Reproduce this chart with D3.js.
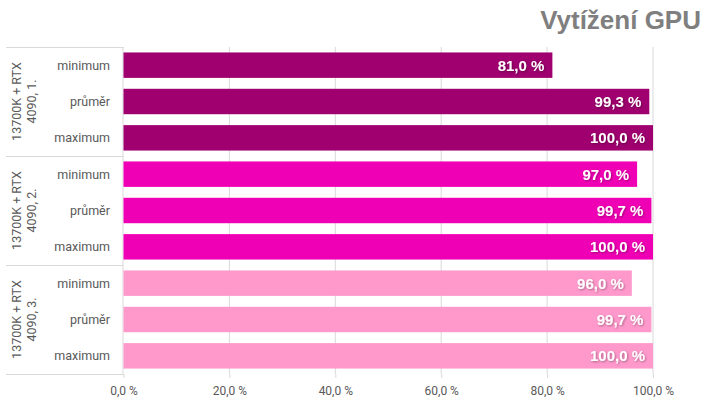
<!DOCTYPE html>
<html lang="cs">
<head>
<meta charset="UTF-8">
<title>Vytížení GPU</title>
<style>
body { margin: 0; background: #fff; }
svg text { font-family: "Liberation Sans", Arial, sans-serif; }
</style>
</head>
<body>
<svg id="main" width="720" height="405"></svg>
<script src="https://cdn.jsdelivr.net/npm/d3@7/dist/d3.min.js"></script>
<script>
var groups = ["13700K + RTX|4090, 1.", "13700K + RTX|4090, 2.", "13700K + RTX|4090, 3."];
var stats = ["minimum", "průměr", "maximum"];
var run1 = [81.0, 99.3, 100.0];
var run2 = [97.0, 99.7, 100.0];
var run3 = [96.0, 99.7, 100.0];
var colors = ["#a0006f", "#f000b4", "#ff99cc"];
var ticks = [0, 20, 40, 60, 80, 100];

var runs = [run1, run2, run3];
var rows = [];
runs.forEach(function(r, g) {
    r.forEach(function(v, i) {
        rows.push({ key: g + "-" + i, group: g, stat: stats[i], value: v });
    });
});

var svg = d3.select("#main");
var plotL = 123.5, plotR = 653, plotT = 47, plotB = 374;

var x = d3.scaleLinear().domain([0, 100]).range([plotL, plotR]);
var y = d3.scaleBand().domain(rows.map(function(d) { return d.key; }))
    .range([plotT, plotB]).paddingInner(0.3).paddingOuter(0.15);
var gy = d3.scaleBand().domain(d3.range(groups.length)).range([plotT, plotB]);

var fmt = function(v) { return v.toFixed(1).replace(".", ",") + " %"; };

// title
svg.append("text").attr("x", 701).attr("y", 29).attr("text-anchor", "end")
    .style("font-size", "26px").style("font-weight", "bold").attr("fill", "#7f7f7f")
    .text("Vytížení GPU");

// gridlines
svg.append("g").selectAll("line").data(ticks.slice(1)).join("line")
    .attr("x1", function(d) { return x(d); }).attr("x2", function(d) { return x(d); })
    .attr("y1", plotT).attr("y2", plotB).attr("stroke", "#d9d9d9");

// x axis ticks
svg.append("g").attr("transform", "translate(0," + plotB + ")")
    .call(d3.axisBottom(x).tickValues(ticks).tickSize(4).tickPadding(8).tickFormat(fmt))
    .call(function(g) {
        g.select(".domain").remove();
        g.attr("font-size", null).attr("font-family", null);
        g.selectAll(".tick line").attr("stroke", "#d9d9d9");
        g.selectAll(".tick text").attr("fill", "#595959")
            .style("font-size", "12px").style("font-family", "Roboto, sans-serif");
    });

// left axis frame
svg.append("line").attr("x1", plotL - 0.5).attr("x2", plotL - 0.5)
    .attr("y1", plotT).attr("y2", plotB).attr("stroke", "#d9d9d9");
svg.append("g").selectAll("line").data(d3.range(groups.length + 1)).join("line")
    .attr("x1", 6).attr("x2", plotL)
    .attr("y1", function(d) { return Math.round(plotT + d * gy.bandwidth()) + 0.5; })
    .attr("y2", function(d) { return Math.round(plotT + d * gy.bandwidth()) + 0.5; })
    .attr("stroke", "#d9d9d9");

// bars
svg.append("g").selectAll("rect").data(rows).join("rect")
    .attr("x", x(0)).attr("y", function(d) { return y(d.key); })
    .attr("width", function(d) { return x(d.value) - x(0); })
    .attr("height", y.bandwidth())
    .attr("fill", function(d) { return colors[d.group]; });

// value labels
svg.append("defs").append("filter").attr("id", "sh")
    .append("feDropShadow").attr("dx", 1).attr("dy", 1).attr("stdDeviation", 0.8)
    .attr("flood-color", "#000").attr("flood-opacity", 0.35);
svg.append("g").selectAll("text").data(rows).join("text")
    .attr("x", function(d) { return x(d.value) - 8; })
    .attr("y", function(d) { return y(d.key) + y.bandwidth() / 2; })
    .attr("dy", "0.36em").attr("text-anchor", "end")
    .attr("fill", "#fff").attr("filter", "url(#sh)")
    .style("font-size", "15px").style("font-weight", "bold")
    .text(function(d) { return fmt(d.value); });

// category labels
svg.append("g").selectAll("text").data(rows).join("text")
    .attr("x", 110)
    .attr("y", function(d) { return y(d.key) + y.bandwidth() / 2; })
    .attr("dy", "0.35em").attr("text-anchor", "end").attr("fill", "#595959")
    .style("font-size", "12.5px").style("font-family", "Roboto, sans-serif")
    .text(function(d) { return d.stat; });

// group labels
var gl = svg.append("g").selectAll("text").data(groups).join("text")
    .attr("transform", function(d, i) {
        return "translate(23," + (gy(i) + gy.bandwidth() / 2) + ") rotate(-90)";
    })
    .attr("text-anchor", "middle").attr("fill", "#595959")
    .style("font-size", "12.5px").style("font-family", "Roboto, sans-serif");
gl.selectAll("tspan").data(function(d) { return d.split("|"); }).join("tspan")
    .attr("x", 0).attr("dy", function(d, i) { return i === 0 ? "-0.15em" : "1.15em"; })
    .text(function(d) { return d; });
</script>
</body>
</html>
